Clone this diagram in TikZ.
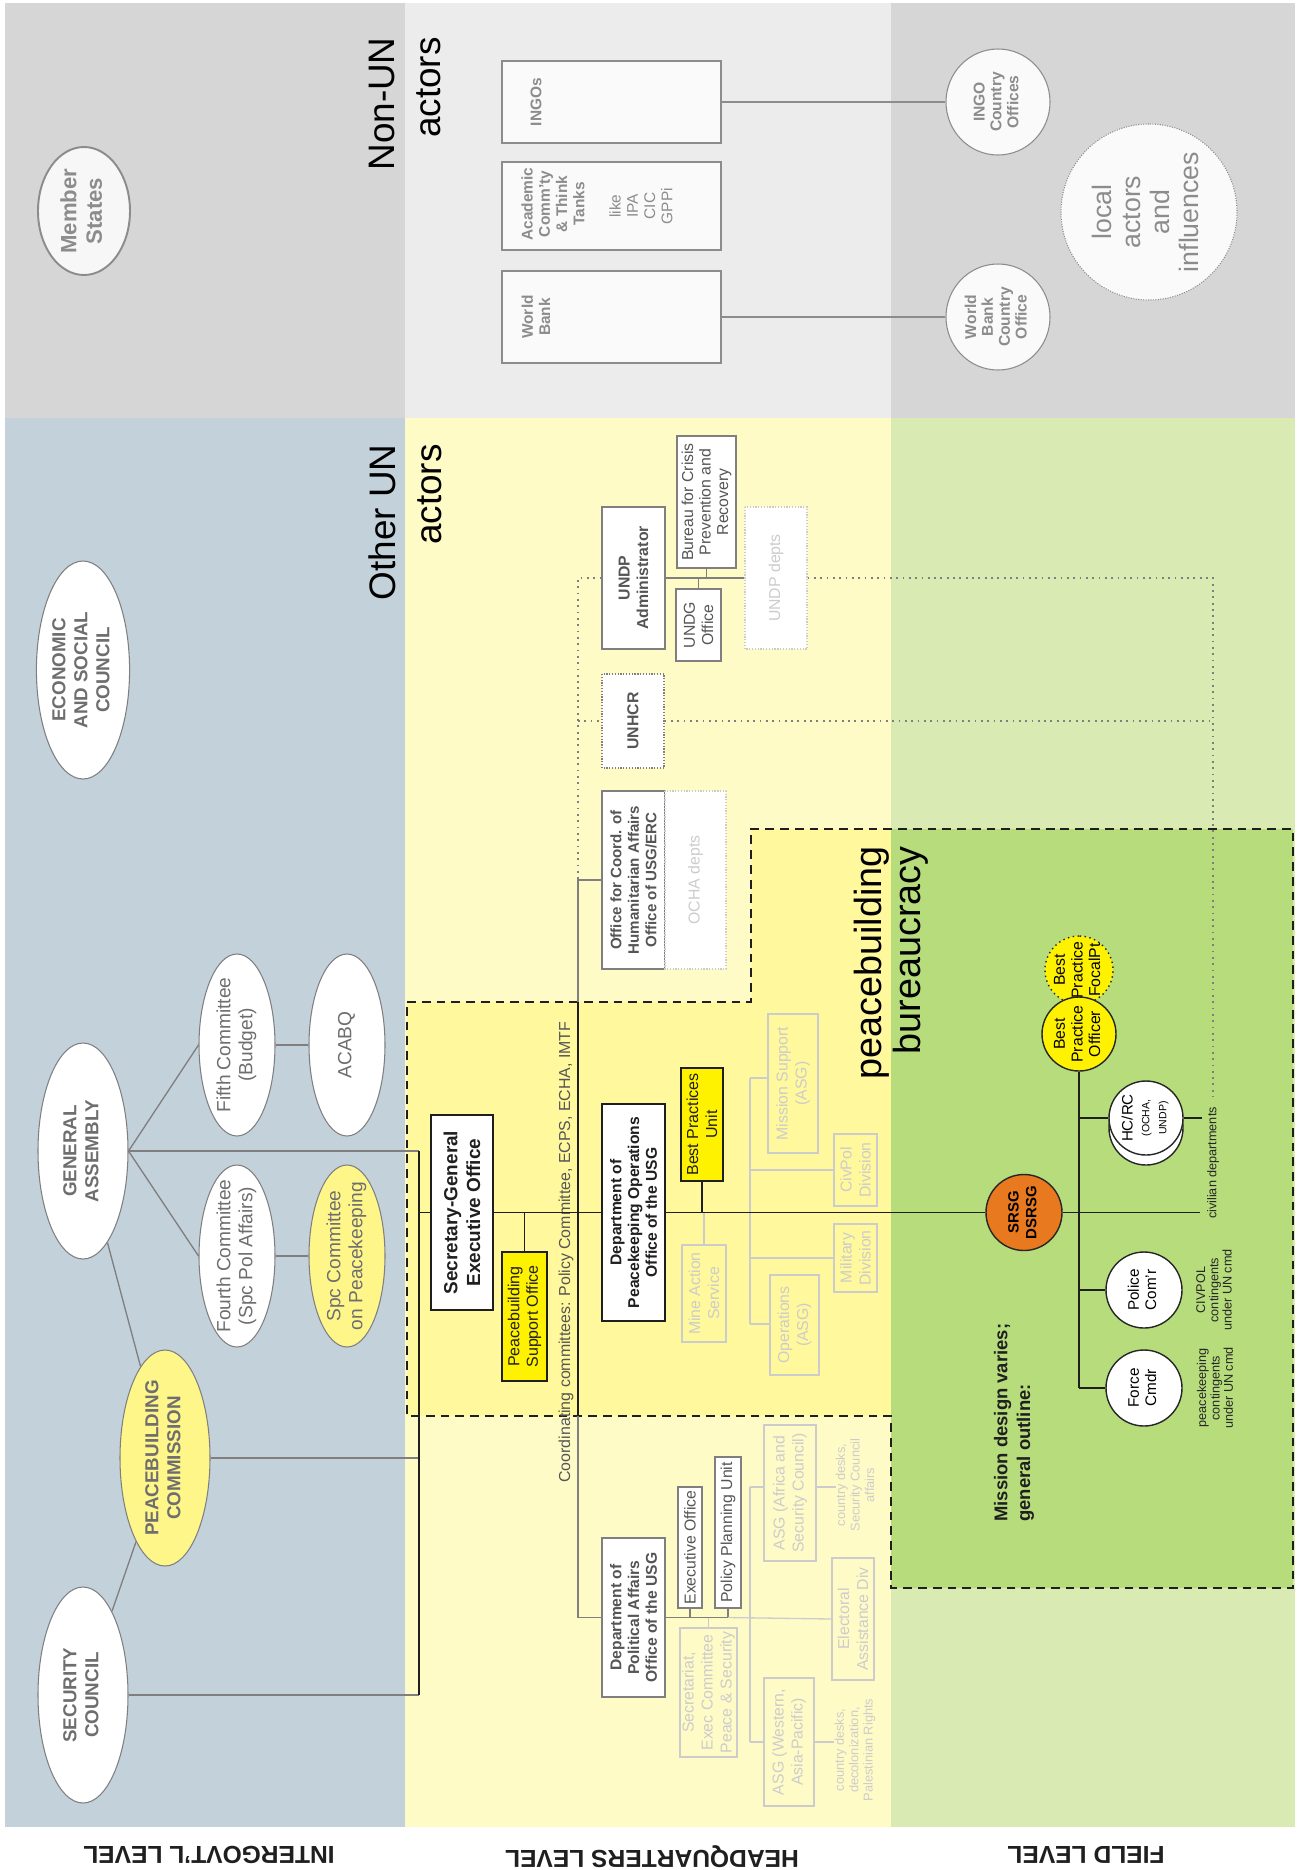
\documentclass[tikz,border=0pt]{standalone}
\usepackage{fontspec}
\setmainfont{Liberation Sans}
\usetikzlibrary{shapes.geometric}
\newcommand{\px}{0.02cm}
\newcommand{\zt}[1]{\makebox[0pt]{\begin{tabular}{@{}c@{}}#1\end{tabular}}}
\definecolor{bgblue}{HTML}{C3D1DB}
\definecolor{bgyel}{HTML}{FFFBC6}
\definecolor{bggreen}{HTML}{D9EAB2}
\definecolor{bgdark}{HTML}{D6D6D6}
\definecolor{bglight}{HTML}{ECECEC}
\definecolor{pbyel}{HTML}{FFF89C}
\definecolor{pbgreen}{HTML}{B6DC7B}
\definecolor{nodeyel}{HTML}{FFF68A}
\definecolor{hotyel}{HTML}{FFF200}
\definecolor{srsgorange}{HTML}{E8791E}
\definecolor{linegray}{HTML}{7F7F7F}
\definecolor{txtgray}{HTML}{6E6E6E}
\definecolor{nontxt}{HTML}{8C8C8C}
\definecolor{faded}{HTML}{CCCCCC}
\definecolor{darktxt}{HTML}{555555}
\tikzset{
  sz/.style 2 args={minimum width=#2*\px, minimum height=#1*\px},
  rbox/.style={draw=linegray, line width=0.75pt, rotate=90, inner sep=0pt, align=center},
  fadebox/.style={rbox, draw=faded, text=faded, font=\fontsize{9}{10.8}\selectfont},
  ell/.style={ellipse, draw=linegray, line width=0.6pt, fill=white, rotate=90, inner sep=0pt},
  rnd/.style={circle, draw=black!85, line width=0.8pt, fill=white, rotate=90, inner sep=0pt},
  words/.style={rotate=90, inner sep=0pt, align=center},
  conn/.style={linegray, line width=0.75pt},
  mainline/.style={black!88, line width=0.8pt},
  fadeline/.style={faded, line width=0.75pt},
  dotline/.style={linegray, line width=0.9pt, dash pattern=on 1pt off 2.6pt},
}

\begin{document}
\begin{tikzpicture}[x=0.02cm, y=-0.02cm]
			%%%%% START %%%%%
			\useasboundingbox (0,0) rectangle (1298,1870);
			\fill[white] (0,0) rectangle (1298,1870);
			
			\fill[bgdark] (5,3) rectangle (405,418);
			\fill[bglight] (405,3) rectangle (891,418);
			\fill[bgdark] (891,3) rectangle (1295,418);
			\fill[bgblue] (5,418) rectangle (405,1827);
			\fill[bgyel] (405,418) rectangle (891,1827);
			\fill[bggreen] (891,418) rectangle (1295,1827);
			
			\fill[pbyel] (407,1002) -- (751,1002) -- (751,829) -- (891,829) -- (891,1416) -- (407,1416) -- cycle;
			\fill[pbgreen] (891,829) rectangle (1293,1588);
			\draw[black!88, line width=0.8pt, dash pattern=on 5pt off 3.4pt] (407,1002) -- (751,1002) -- (751,829) -- (1293,829) -- (1293,1588) -- (891,1588) -- (891,1416) -- (407,1416) -- cycle;
			
			\node[words, font=\fontsize{21}{26}\selectfont, align=right, anchor=east] (nonun) at (405,37) {Non-UN\\actors};
			\node[words, font=\fontsize{21}{26}\selectfont, align=right, anchor=east] (otherun) at (405,444) {Other UN\\actors};
			\node[words, font=\fontsize{21.5}{22.2}\selectfont, align=right, anchor=east] (pbb) at (891,846) {peacebuilding\\bureaucracy};
			
			% non-UN actors
			\node[ell, sz={92}{128}, draw=nontxt, line width=1.1pt, fill=white!97!black, text=nontxt, font=\bfseries\fontsize{12.6}{14.5}\selectfont] (mstates) at (84,211) {\zt{Member\\States}};
			
			\node[rbox, sz={219}{82}, draw=nontxt, line width=0.85pt, fill=white!98!black] (ingo) at (611.5,102) {};
			\node[rbox, sz={219}{88}, draw=nontxt, line width=0.85pt, fill=white!98!black] (acad) at (611.5,206) {};
			\node[rbox, sz={219}{92}, draw=nontxt, line width=0.85pt, fill=white!98!black] (wbank) at (611.5,317) {};
			\node[words, text=nontxt, font=\bfseries\fontsize{8.8}{9.8}\selectfont] (ingotxt) at (536,102) {INGOs};
			\node[words, text=nontxt, font=\bfseries\fontsize{8.8}{9.8}\selectfont] (acadtxt) at (553,204) {Academic\\Comm'ty\\\& Think\\Tanks};
			\node[words, text=nontxt, font=\fontsize{8.8}{9.8}\selectfont] (liketxt) at (641,206) {like\\IPA\\CIC\\GPPi};
			\node[words, text=nontxt, font=\bfseries\fontsize{8.8}{9.8}\selectfont] (wbtxt) at (536,317) {World\\Bank};
			
			\node[ell, sz={104}{106}, draw=nontxt, fill=white!98!black, text=nontxt, font=\bfseries\fontsize{8.9}{9.6}\selectfont] (ingoco) at (998,102) {\zt{INGO\\Country\\Offices}};
			\node[ell, sz={104}{106}, draw=nontxt, fill=white!98!black, text=nontxt, font=\bfseries\fontsize{8.9}{9.6}\selectfont] (wbco) at (998,317) {\zt{World\\Bank\\Country\\Office}};
			\node[rnd, minimum size=176*\px, draw=nontxt, line width=0.6pt, dash pattern=on 0.6pt off 0.8pt, fill=white!98!black, text=nontxt, font=\fontsize{15.2}{16.6}\selectfont] (local) at (1149,212) {\zt{local\\actors\\and\\influences}};
			
			\draw[nontxt, line width=0.85pt] (ingo.south) -- (ingoco);
			\draw[nontxt, line width=0.85pt] (wbank.south) -- (wbco);
			
			% intergovernmental level
			\node[ell, sz={90}{218}, text=txtgray, font=\bfseries\fontsize{10.7}{12.5}\selectfont] (ecosoc) at (83,670) {\zt{ECONOMIC\\AND SOCIAL\\COUNCIL}};
			\node[ell, sz={90}{216}, text=txtgray, font=\bfseries\fontsize{10.7}{12.5}\selectfont] (ga) at (83,1151) {\zt{GENERAL\\ASSEMBLY}};
			\node[ell, sz={76}{182}, text=txtgray, font=\fontsize{10.9}{12.6}\selectfont] (fifth) at (237,1045) {\zt{Fifth Committee\\(Budget)}};
			\node[ell, sz={76}{182}, text=txtgray, font=\fontsize{10.9}{12.6}\selectfont] (acabq) at (347,1045) {\zt{ACABQ}};
			\node[ell, sz={76}{182}, text=txtgray, font=\fontsize{10.9}{12.6}\selectfont] (fourth) at (237,1256) {\zt{Fourth Committee\\(Spc Pol Affairs)}};
			\node[ell, sz={76}{182}, fill=nodeyel, text=txtgray, font=\fontsize{10.9}{12.6}\selectfont] (spc) at (347,1256) {\zt{Spc Committee\\on Peacekeeping}};
			\node[ell, sz={90}{216}, fill=nodeyel, text=txtgray, font=\bfseries\fontsize{10.7}{12.5}\selectfont] (pbc) at (165,1458) {\zt{PEACEBUILDING\\COMMISSION}};
			\node[ell, sz={90}{216}, text=txtgray, font=\bfseries\fontsize{10.7}{12.5}\selectfont] (sc) at (83,1695) {\zt{SECURITY\\COUNCIL}};
			
			\coordinate (jga) at (419,1151);
			\coordinate (jsg) at (419,1212.5);
			\coordinate (jpbc) at (419,1458);
			\coordinate (jsc) at (419,1695);
			
			\draw[conn] (ga.south) -- (fifth.north);
			\draw[conn] (ga.south) -- (fourth.north);
			\draw[conn] (fifth.south) -- (acabq.north);
			\draw[conn] (fourth.south) -- (spc.north);
			\draw[conn] (ga.south) -- (jga);
			\draw[conn] (ga) -- (pbc);
			\draw[conn] (pbc) -- (sc);
			\draw[conn] (pbc.south) -- (jpbc);
			\draw[conn] (sc.south) -- (jsc);
			\draw[mainline] (jga) -- (jsc);
			
			% headquarters level
			\node[rbox, sz={62}{195}, draw=black!88, fill=white, text=black!88, font=\bfseries\fontsize{10.8}{13}\selectfont] (sgo) at (462,1212.5) {Secretary-General\\Executive Office};
			\node[rbox, sz={45}{129}, draw=black!88, fill=hotyel, text=black!88, font=\fontsize{9.1}{10.5}\selectfont] (pso) at (524.5,1316.5) {Peacebuilding\\Support Office};
			\node[rbox, sz={63}{217}, draw=black!88, fill=white, text=black!88, font=\bfseries\fontsize{8.9}{10.1}\selectfont] (dpko) at (633.5,1212.5) {Department of\\Peacekeeping Operations\\Office of the USG};
			\node[rbox, sz={42}{113}, draw=black!88, fill=hotyel, text=black!88, font=\fontsize{9.1}{10.8}\selectfont] (bpu) at (702,1124.5) {Best Practices\\Unit};
			\node[fadebox, sz={44}{97}] (mas) at (704,1293.5) {Mine Action\\Service};
			\node[fadebox, sz={50}{139}] (mssup) at (793,1083.5) {Mission Support\\(ASG)};
			\node[fadebox, sz={43}{72}] (civdiv) at (855.5,1170) {CivPol\\Division};
			\node[fadebox, sz={43}{68}] (mildiv) at (855.5,1258) {Military\\Division};
			\node[fadebox, sz={49}{100}] (opsasg) at (794.5,1325) {Operations\\(ASG)};
			
			\node[words, text=darktxt, font=\fontsize{9.05}{10.5}\selectfont] (coord) at (566,1252) {Coordinating committees: Policy Committee, ECPS, ECHA, IMTF};
			
			\draw[mainline] (jsg) -- (sgo.north);
			\draw[mainline] (sgo.south) -- (dpko.north);
			\draw[mainline] (pso.east) -- (pso.east |- jsg);
			\draw[mainline] (bpu.west) -- (bpu.west |- jsg);
			\draw[fadeline] (mas.east) -- (mas.east |- jsg);
			
			\coordinate (jpko1) at (750,1078);
			\coordinate (jpko4) at (750,1324);
			\draw[fadeline] (jpko1) -- (jpko4);
			\draw[fadeline] (jpko1) -- (jpko1 -| mssup.north);
			\draw[fadeline] (jpko1 |- civdiv.north) -- (civdiv.north);
			\draw[fadeline] (jpko1 |- mildiv.north) -- (mildiv.north);
			\draw[fadeline] (jpko4) -- (jpko4 -| opsasg.north);
			
			\node[rbox, sz={63}{142}, fill=white, text=darktxt, font=\bfseries\fontsize{9}{10.4}\selectfont] (undp) at (633.5,578) {UNDP\\Administrator};
			\node[rbox, sz={59}{132}, fill=white, text=darktxt, font=\fontsize{9}{10}\selectfont] (bcpr) at (706.5,502) {Bureau for Crisis\\Prevention and\\Recovery};
			\node[rbox, sz={45}{72}, fill=white, text=darktxt, font=\fontsize{9}{10.4}\selectfont] (undg) at (698.5,625) {UNDG\\Office};
			\node[fadebox, sz={62}{142}, fill=white, dash pattern=on 0.7pt off 0.9pt] (undpd) at (776,578) {UNDP depts};
			\node[rbox, sz={62}{94}, fill=white, dash pattern=on 0.7pt off 0.9pt, text=darktxt, font=\bfseries\fontsize{9}{10.4}\selectfont] (unhcr) at (633,721) {UNHCR};
			\node[rbox, sz={63}{178}, fill=white, text=darktxt, font=\bfseries\fontsize{8.6}{10}\selectfont] (ocha) at (633.5,880) {Office for Coord. of\\Humanitarian Affairs\\Office of USG/ERC};
			\node[fadebox, sz={61}{178}, fill=white, dash pattern=on 0.7pt off 0.9pt] (ochad) at (695.5,880) {OCHA depts};
			
			\draw[conn] (undp.south) -- (undpd.north);
			\draw[conn] (bcpr.west) -- (bcpr.west |- undp.south);
			\draw[conn] (undg.east) -- (undg.east |- undp.south);
			
			\node[rbox, sz={63}{159}, fill=white, text=darktxt, font=\bfseries\fontsize{8.9}{10.1}\selectfont] (dpa) at (633.5,1617.5) {Department of\\Political Affairs\\Office of the USG};
			\node[rbox, sz={24}{121}, fill=white, text=darktxt, font=\fontsize{9}{10.4}\selectfont] (exo) at (690,1547.5) {Executive Office};
			\node[rbox, sz={26}{151}, fill=white, text=darktxt, font=\fontsize{9}{10.4}\selectfont] (ppu) at (728,1532.5) {Policy Planning Unit};
			\node[fadebox, sz={57}{129}] (sec) at (708.5,1692.5) {Secretariat,\\Exec Committee\\Peace \& Security};
			\node[fadebox, sz={52}{136}] (asgaf) at (790,1493) {ASG (Africa and\\Security Council)};
			\node[fadebox, sz={42}{122}] (elec) at (853,1619) {Electoral\\Assistance Div};
			\node[fadebox, sz={50}{128}] (asgw) at (789,1742) {ASG (Western,\\Asia-Pacific)};
			\node[words, text=faded, font=\fontsize{7.3}{8.2}\selectfont] (cd1) at (855,1485) {country desks,\\Security Council\\affairs};
			\node[words, text=faded, font=\fontsize{7.3}{8.2}\selectfont] (cd2) at (855,1750) {country desks,\\decolonization,\\Palestinian Rights};
			
			\coordinate (cundp) at (578,578);
			\coordinate (cunhcr) at (578,721);
			\coordinate (cocha) at (578,880);
			\coordinate (cbtop) at (578,1002);
			\coordinate (cbbot) at (578,1416);
			\coordinate (cdpa) at (578,1617.5);
			\coordinate (cfield1) at (1213,578);
			\coordinate (cfield2) at (1213,721);
			\coordinate (chcrc) at (1213,1097);
			
			\draw[dotline] (undp.north) -- (cundp) -- (cocha);
			\draw[dotline] (cunhcr) -- (unhcr.north);
			\draw[dotline] (unhcr.south) -- (cfield2);
			\draw[dotline] (undpd.south) -- (cfield1) -- (chcrc);
			\draw[conn] (ocha.north) -- (cocha) -- (cbtop);
			\draw[mainline] (cbtop) -- (cbbot);
			\draw[conn] (cbbot) -- (cdpa) -- (dpa.north);
			
			\draw[conn] (dpa.south) -- (ppu.west |- dpa.south);
			\draw[conn] (exo.west) -- (exo.west |- dpa.south);
			\draw[conn] (ppu.west) -- (ppu.west |- dpa.south);
			\draw[fadeline] (ppu.west |- dpa.south) -- (elec.north);
			\draw[fadeline] (sec.east) -- (sec.east |- dpa.south);
			\coordinate (jpa1) at (750,1487);
			\coordinate (jpa2) at (750,1742);
			\draw[fadeline] (jpa1) -- (jpa2);
			\draw[fadeline] (jpa1) -- (jpa1 -| asgaf.north);
			\draw[fadeline] (jpa2) -- (jpa2 -| asgw.north);
			\draw[fadeline] (jpa1 -| asgaf.south) -- (jpa1 -| cd1.north);
			\draw[fadeline] (jpa2 -| asgw.south) -- (jpa2 -| cd2.north);
			
			% field level
			\node[rnd, minimum size=76*\px, fill=srsgorange, font=\bfseries\fontsize{8.5}{10}\selectfont] (srsg) at (1024,1212.5) {\zt{SRSG\\DSRSG}};
			\node[rnd, minimum size=68*\px, fill=hotyel, dash pattern=on 0.8pt off 2pt, font=\fontsize{9}{10}\selectfont] (bpf) at (1079,970) {\zt{Best\\Practice\\FocalPt}};
			\node[rnd, minimum size=74*\px, fill=hotyel, font=\fontsize{9}{10}\selectfont] (bpo) at (1079,1034) {\zt{Best\\Practice\\Officer}};
			\node[rnd, minimum size=74*\px] (hcrcb) at (1146,1128) {};
			\node[rnd, minimum size=74*\px, font=\fontsize{8.6}{9.6}\selectfont] (hcrc) at (1146,1118) {\zt{HC/RC\\{\fontsize{6}{6.6}\selectfont (OCHA,}\\{\fontsize{6}{6.6}\selectfont UNDP)}}};
			\node[rnd, minimum size=76*\px, font=\fontsize{8.7}{9.8}\selectfont] (police) at (1144,1290) {\zt{Police\\Com'r}};
			\node[rnd, minimum size=76*\px, font=\fontsize{8.7}{9.8}\selectfont] (force) at (1144,1388) {\zt{Force\\Cmdr}};
			
			\coordinate (jf1) at (1079,1118);
			\coordinate (jf3) at (1079,1290);
			\coordinate (jf4) at (1079,1388);
			\coordinate (cciv1) at (1202,1118);
			\coordinate (cciv2) at (1200,1212.5);
			
			\draw[mainline] (dpko.south) -- (srsg);
			\draw[mainline] (srsg) -- (cciv2);
			\draw[mainline] (bpo) -- (jf4);
			\draw[mainline] (jf1) -- (hcrc);
			\draw[mainline] (hcrc) -- (cciv1);
			\draw[mainline] (jf3) -- (police);
			\draw[mainline] (jf4) -- (force);
			
			\node[words, text=black!85, font=\fontsize{7.2}{7.6}\selectfont] (civdep) at (1213,1163) {civilian departments};
			\node[words, text=black!85, font=\fontsize{7.2}{7.6}\selectfont] (civpoltxt) at (1214,1290) {CIVPOL\\contingents\\under UN cmd};
			\node[words, text=black!85, font=\fontsize{7.2}{7.6}\selectfont] (pktxt) at (1215,1388) {peacekeeping\\contingents\\under UN cmd};
			\node[words, align=left, anchor=west, text=black!88, font=\bfseries\fontsize{10.5}{13}\selectfont] (mdesign) at (1014,1522) {Mission design varies;\\general outline:};
			
			% level labels
			\node[rotate=180, text=black!88, font=\bfseries\fontsize{14}{16}\selectfont] (lvlint) at (209,1855) {INTERGOVT'L LEVEL};
			\node[rotate=180, text=black!88, font=\bfseries\fontsize{14}{16}\selectfont] (lvlhq) at (652,1857) {HEADQUARTERS LEVEL};
			\node[rotate=180, text=black!88, font=\bfseries\fontsize{14}{16}\selectfont] (lvlfield) at (1086,1855) {FIELD LEVEL};
			
			%%%%% END %%%%%
\end{tikzpicture}
\end{document}
